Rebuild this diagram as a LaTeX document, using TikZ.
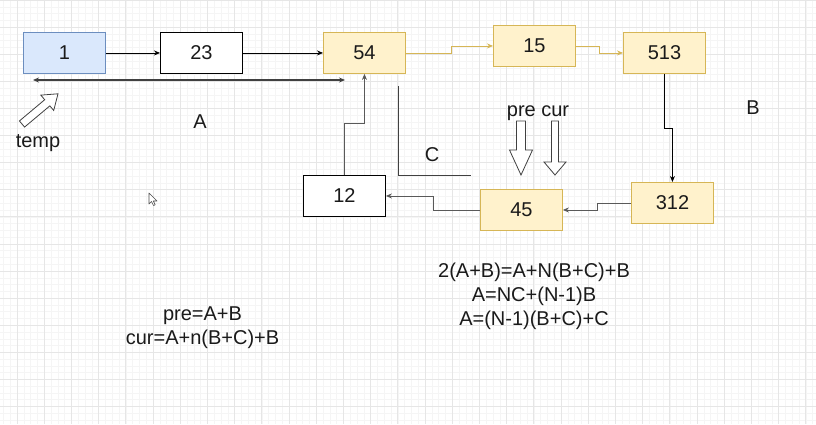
\documentclass[tikz,border=0pt]{standalone}
\usepackage{fontspec}
\setmainfont{Liberation Sans}
\usetikzlibrary{arrows.meta,calc}

\definecolor{gridmajor}{HTML}{E6E6E6}
\definecolor{gridminor}{HTML}{F5F5F5}
\definecolor{blueFill}{HTML}{DAE8FC}
\definecolor{blueLine}{HTML}{6C8EBF}
\definecolor{yelFill}{HTML}{FFF2CC}
\definecolor{yelLine}{HTML}{D6B656}
\definecolor{ink}{HTML}{1A1A1A}

\tikzset{
  every node/.style={font=\fontsize{20}{24}\selectfont, text=ink},
  box/.style={draw, line width=0.9pt, minimum width=82pt, minimum height=41pt,
              inner sep=0pt, anchor=north west},
  bluebox/.style={box, fill=blueFill, draw=blueLine},
  yelbox/.style={box, fill=yelFill, draw=yelLine},
  plainbox/.style={box, fill=white, draw=black},
  link/.style={draw=black, line width=0.8pt, -{Stealth[length=6pt,width=5pt]}},
  glink/.style={draw=black!65, line width=0.8pt, -{Stealth[length=6pt,width=5pt]}},
  ylink/.style={draw=yelLine, line width=0.8pt, -{Stealth[length=6pt,width=5pt]}},
  span/.style={draw=black!75, line width=1.1pt,
               {Stealth[length=6pt,width=5pt]}-{Stealth[length=6pt,width=5pt]}},
  hollow/.style={draw=black!75, line width=0.8pt, fill=white, line join=miter},
  lbl/.style={anchor=base, inner sep=0pt},
}

\begin{document}
\begin{tikzpicture}[x=1pt, y=-1pt]
  % canvas and grid
  \fill[white] (0,0) rectangle (816,424);
  \useasboundingbox (0,0) rectangle (816,424);
  \foreach \i in {0,...,123} {
    \draw[gridminor, line width=0.5pt] ({-10.2+6.8*\i},0) -- ++(0,424);
  }
  \foreach \i in {0,...,63} {
    \draw[gridminor, line width=0.5pt] (0,{6.775*\i}) -- ++(816,0);
  }
  \foreach \i in {0,...,30} {
    \draw[gridmajor, line width=0.7pt] ({-10.2+27.2*\i},0) -- ++(0,424);
  }
  \foreach \i in {0,...,15} {
    \draw[gridmajor, line width=0.7pt] (0,{27.1*\i}) -- ++(816,0);
  }

  % list nodes
  \node[bluebox]  (n1)   at (23,32)  {1};
  \node[plainbox] (n23)  at (160,32) {23};
  \node[yelbox]   (n54)  at (323,32) {54};
  \node[yelbox]   (n15)  at (493,25) {15};
  \node[yelbox]   (n513) at (623,32) {513};
  \node[yelbox]   (n312) at (631,182) {312};
  \node[yelbox]   (n45)  at (480,189) {45};
  \node[plainbox] (n12)  at (303,175) {12};

  % links
  \draw[link]  (n1.east) -- (n23.west);
  \draw[link]  (n23.east) -- (n54.west);
  \draw[ylink] (n54.east) -- ++(45,0) |- (n15.west);
  \draw[ylink] (n15.east) -- ++(23,0) |- (n513.west);
  \draw[link]  (n513.south) -- ++(0,54) -| (n312.north);
  \draw[glink] (n312.west) -- ++(-34,0) |- (n45.east);
  \draw[glink] (n45.west) -- ++(-47,0) |- (n12.east);
  \draw[glink] (n12.north) -- ++(0,-52) -| (n54.south);

  % span A
  \coordinate (spanL) at (33,80);
  \coordinate (spanR) at (345,80);
  \draw[span] (spanL) -- (spanR);

  % segment C
  \coordinate (cTop) at (398,86);
  \coordinate (cCorner) at (398,175);
  \coordinate (cEnd) at (471,175);
  \draw[black!75, line width=1pt] (cTop) -- (cCorner) -- (cEnd);

  % labels
  \node[lbl] (lA)    at (200,128) {A};
  \node[lbl] (lB)    at (753,114) {B};
  \node[lbl] (lC)    at (432,161) {C};
  \node[lbl] (ltemp) at (38,147)  {temp};
  \node[lbl] (lpc)   at (538,116) {pre cur};

  % pointer arrows
  \begin{scope}[shift={(22,124)}, rotate=40]
    \draw[hollow] (0pt,4pt) -- (33pt,4pt) -- (33pt,10pt) -- (47pt,0pt)
      -- (33pt,-10pt) -- (33pt,-4pt) -- (0pt,-4pt) -- cycle;
  \end{scope}
  \draw[hollow] (516.5,121) -- (525.5,121) -- (525.5,150) -- (532.5,150)
    -- (521,175) -- (509.5,150) -- (516.5,150) -- cycle;
  \draw[hollow] (551.5,121) -- (558.5,121) -- (558.5,162) -- (566,162)
    -- (555,175) -- (544,162) -- (551.5,162) -- cycle;

  % formulas
  \node[lbl] (f1) at (534,277) {2(A+B)=A+N(B+C)+B};
  \node[lbl] (f2) at (534,301) {A=NC+(N-1)B};
  \node[lbl] (f3) at (534,325) {A=(N-1)(B+C)+C};
  \node[lbl] (g1) at (202.5,320) {pre=A+B};
  \node[lbl] (g2) at (202.5,344) {cur=A+n(B+C)+B};

  % mouse pointer
  \draw[black!70, fill=white, line width=0.6pt, line join=round]
    (149,193) -- (149,204) -- (151.5,201.5) -- (153.5,205.5) -- (155.2,204.8)
    -- (153.3,201) -- (157,201) -- cycle;
\end{tikzpicture}
\end{document}
